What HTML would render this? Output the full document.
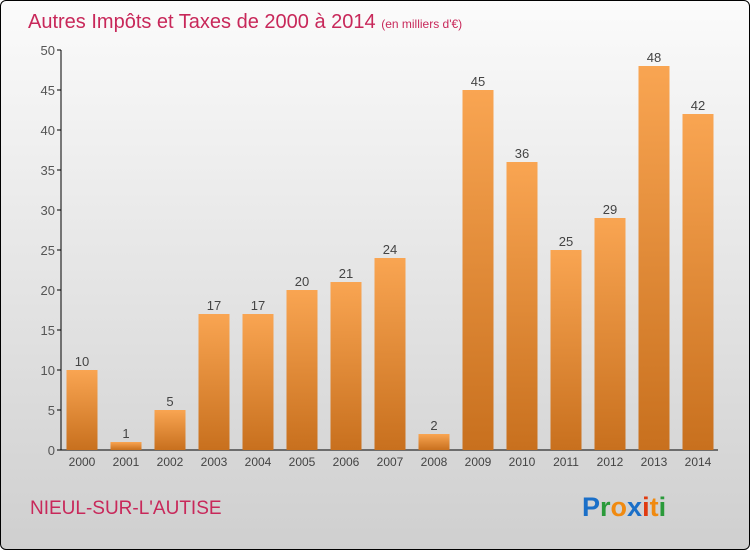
<!DOCTYPE html>
<html><head><meta charset="utf-8"><style>
body{margin:0;}
#wrap{width:748px;height:548px;border:1px solid #000;border-radius:6px;overflow:hidden;background:linear-gradient(#fbfbfb,#cfcfcf);position:relative;font-family:"Liberation Sans",sans-serif;}
</style></head><body>
<div id="wrap">
<svg width="748" height="548" viewBox="1 1 748 548" style="position:absolute;left:0;top:0" id="svg">
<defs><linearGradient id="bg" x1="0" y1="0" x2="0" y2="1"><stop offset="0" stop-color="#f9a552"/><stop offset="1" stop-color="#c8701e"/></linearGradient></defs>
<text x="28" y="28" font-size="20" fill="#c8285a">Autres Impôts et Taxes de 2000 à 2014 <tspan font-size="12">(en milliers d'€)</tspan></text>
<g id="axes"></g><g id="bars"></g>
<text x="30" y="514" font-size="19" fill="#c8285a">NIEUL-SUR-L'AUTISE</text>
<text x="582" y="516" font-size="27" font-weight="bold"><tspan fill="#1a6fc8">P</tspan><tspan fill="#2a9a3a">r</tspan><tspan fill="#f08a10">o</tspan><tspan fill="#1a6fc8">x</tspan><tspan fill="#e03a10">i</tspan><tspan fill="#f08a10">t</tspan><tspan fill="#2a9a3a">i</tspan></text>
</svg></div>
<script>
const years=["2000","2001","2002","2003","2004","2005","2006","2007","2008","2009","2010","2011","2012","2013","2014"];
const values=[10,1,5,17,17,20,21,24,2,45,36,25,29,48,42];
const yTicks=[0,5,10,15,20,25,30,35,40,45,50];
const ns="http://www.w3.org/2000/svg";
const y=v=>450-v*8, x=i=>82+i*44;
const ax=document.getElementById('axes'), bg=document.getElementById('bars');
function mk(t,a,p){const e=document.createElementNS(ns,t);for(const k in a)e.setAttribute(k,a[k]);p.appendChild(e);return e;}
const yl=mk('line',{x1:61,x2:61,y1:50,y2:450,stroke:'#000'},ax);


const xl=mk('line',{x1:61,x2:718,y1:450,y2:450,stroke:'#000'},ax);


yTicks.forEach(t=>{mk('line',{x1:57,x2:61,y1:y(t),y2:y(t),stroke:'#000'},ax);
const tx=mk('text',{x:55,y:y(t)+5,'text-anchor':'end','font-size':13,fill:'#555'},ax);tx.textContent=t;

});
years.forEach((yr,i)=>{const v=values[i];
const r=mk('rect',{x:x(i)-15.5,y:y(v),width:31,height:v*8,fill:'url(#bg)'},bg);


const l=mk('text',{x:x(i),y:y(v)-4,'text-anchor':'middle','font-size':13,fill:'#444'},bg);l.textContent=v;


const xt=mk('text',{x:x(i),y:466,'text-anchor':'middle','font-size':12,fill:'#444'},ax);xt.textContent=yr;

});
</script>
</body></html>
